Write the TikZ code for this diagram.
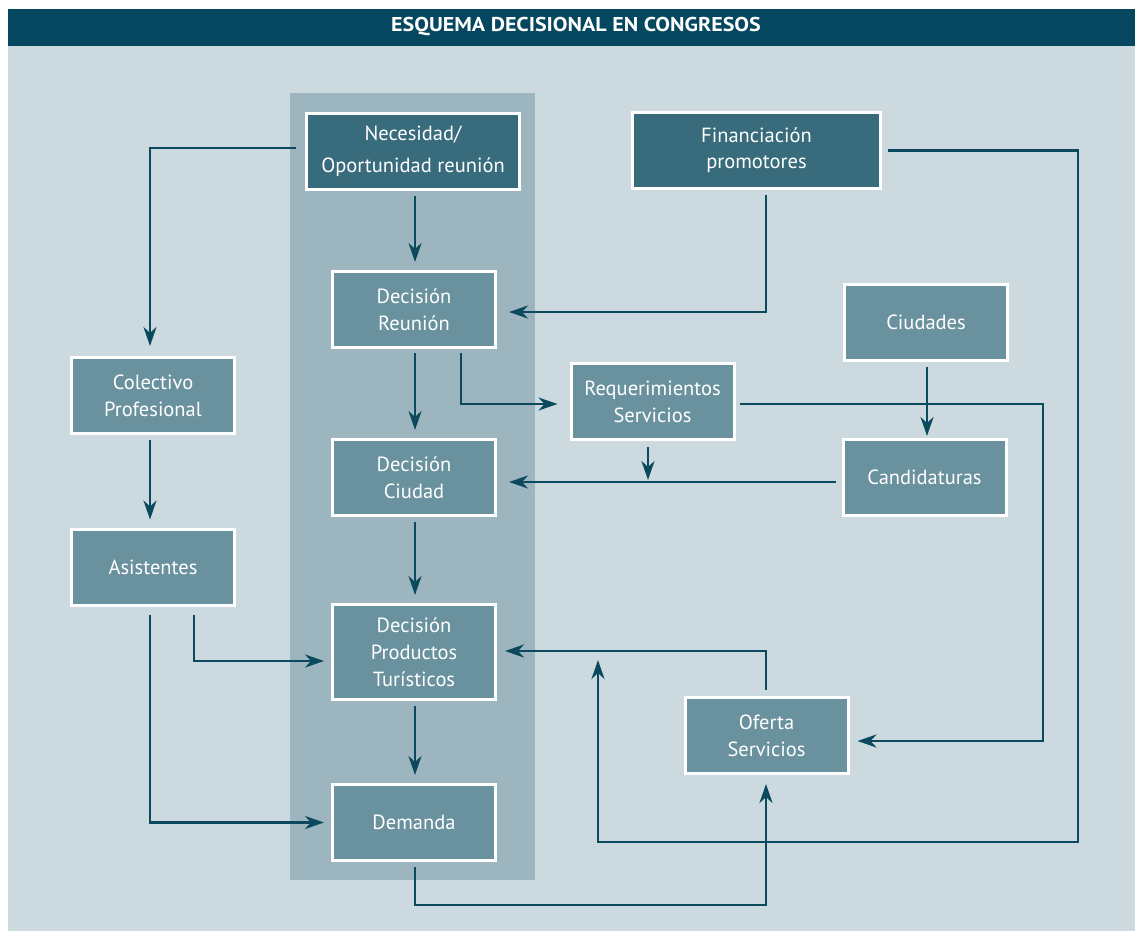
\documentclass[tikz,border=0pt]{standalone}
\usepackage{fontspec}
\setmainfont{PT Sans}
\newfontfamily\titlefont[FakeStretch=1.1]{PT Sans Bold}
\usetikzlibrary{arrows.meta,calc}
\definecolor{hdr}{HTML}{05475E}
\definecolor{bgc}{HTML}{CCDAE0}
\definecolor{colc}{HTML}{9DB5BE}
\definecolor{dbox}{HTML}{386C7D}
\definecolor{lbox}{HTML}{6A919E}
\definecolor{arrc}{HTML}{0B4A5E}
\tikzset{
  box/.style={draw=white, line width=3pt, fill=lbox, text=white, align=center,
    font=\fontsize{20.5}{27}\selectfont, minimum width=163pt, minimum height=76pt, inner sep=0pt},
  darkbox/.style={box, fill=dbox},
  arr/.style={draw=arrc, line width=2.8pt, -{Stealth[length=19pt,width=13pt,inset=6pt]}},
  ln/.style={draw=arrc, line width=2.8pt}
}
\begin{document}
\begin{tikzpicture}[x=1pt,y=-1pt]
\useasboundingbox (0,0) rectangle (1135,932);
\fill[white] (0,0) rectangle (1135,932);
\fill[bgc] (8,46) rectangle (1135,931);
\fill[hdr] (8,9) rectangle (1135,46);
\node[text=white, font=\titlefont\fontsize{20}{20}\selectfont] (title) at (576,27) {ESQUEMA DECISIONAL EN CONGRESOS};
\fill[colc] (290,93) rectangle (535,880);

\node[darkbox, minimum width=213pt, font=\fontsize{20.5}{30}\selectfont] (nec) at (413,151.5) {Necesidad/\\[2pt]Oportunidad reunión};
\node[darkbox, minimum width=248pt, font=\fontsize{20.5}{26}\selectfont] (fin) at (756.5,150.5) {Financiación\\promotores};
\node[box] (dr) at (414,309.5) {Decisión\\Reunión};
\node[box] (ciu) at (926,322) {Ciudades};
\node[box] (col) at (153,395.5) {Colectivo\\Profesional};
\node[box] (req) at (652.5,401.5) {Requerimientos\\Servicios};
\node[box] (dc) at (414,477.5) {Decisión\\Ciudad};
\node[box] (can) at (924.5,477.5) {Candidaturas};
\node[box] (asi) at (153,567) {Asistentes};
\node[box, minimum height=95pt] (dpt) at (414,652) {Decisión\\Productos\\Turísticos};
\node[box] (ofe) at (766.5,735.5) {Oferta\\Servicios};
\node[box] (dem) at (414,822.5) {Demanda};

\coordinate (finR) at (1078,842);
\coordinate (finEnd) at (598,660);
\coordinate (reqR) at (1043,404);
\coordinate (reqEnd) at (648,480);
\coordinate (demB) at (415,905);

% connectors
\draw[arr] ([xshift=-9pt,yshift=3.5pt]nec.west) -| ([xshift=-3pt,yshift=10pt]col.north);
\draw[arr] ([xshift=2pt,yshift=-5pt]nec.south) -- ([xshift=1pt,yshift=8pt]dr.north);
\draw[arr] ([xshift=9.5pt,yshift=-5pt]fin.south) |- ([xshift=12pt,yshift=-2.5pt]dr.east);
\draw[arr] ([xshift=6pt]fin.east) -| (finR) -| (finEnd);
\draw[arr] ([xshift=1pt,yshift=-4pt]dr.south) -- ([xshift=1pt,yshift=8pt]dc.north);
\draw[arr] ([xshift=47pt,yshift=-4pt]dr.south) |- ([xshift=-12pt,yshift=-2.5pt]req.west);
\draw[arr] ([xshift=4pt,yshift=-2.5pt]req.east) -- (reqR) |- ([xshift=8pt,yshift=-5.5pt]ofe.east);
\draw[arr] ([xshift=1pt,yshift=-5pt]ciu.south) -- ([xshift=2.5pt,yshift=2pt]can.north);
\draw[arr] ([xshift=-6pt,yshift=-4.5pt]can.west) -- ([xshift=12pt,yshift=-4.5pt]dc.east);
\draw[arr] ([xshift=-4.5pt,yshift=-6pt]req.south) -- (reqEnd);
\draw[arr] ([xshift=-3pt,yshift=-5pt]col.south) -- ([xshift=-3pt,yshift=8pt]asi.north);
\draw[arr] ([xshift=1pt,yshift=-5pt]dc.south) -- ([xshift=1pt,yshift=8pt]dpt.north);
\draw[arr] ([xshift=41pt,yshift=-8pt]asi.south) |- ([xshift=-7pt,yshift=-9pt]dpt.west);
\draw[arr] ([xshift=-3pt,yshift=-8pt]asi.south) |- ([xshift=-7pt]dem.west);
\draw[arr] ([xshift=1pt,yshift=-5pt]dpt.south) -- ([xshift=1pt,yshift=8pt]dem.north);
\draw[arr] ([xshift=-0.5pt,yshift=6pt]ofe.north) |- ([xshift=8pt,yshift=1pt]dpt.east);
\draw[arr] ([xshift=1pt,yshift=-5pt]dem.south) -- (demB) -| ([xshift=-0.5pt,yshift=-9pt]ofe.south);
\end{tikzpicture}
\end{document}
